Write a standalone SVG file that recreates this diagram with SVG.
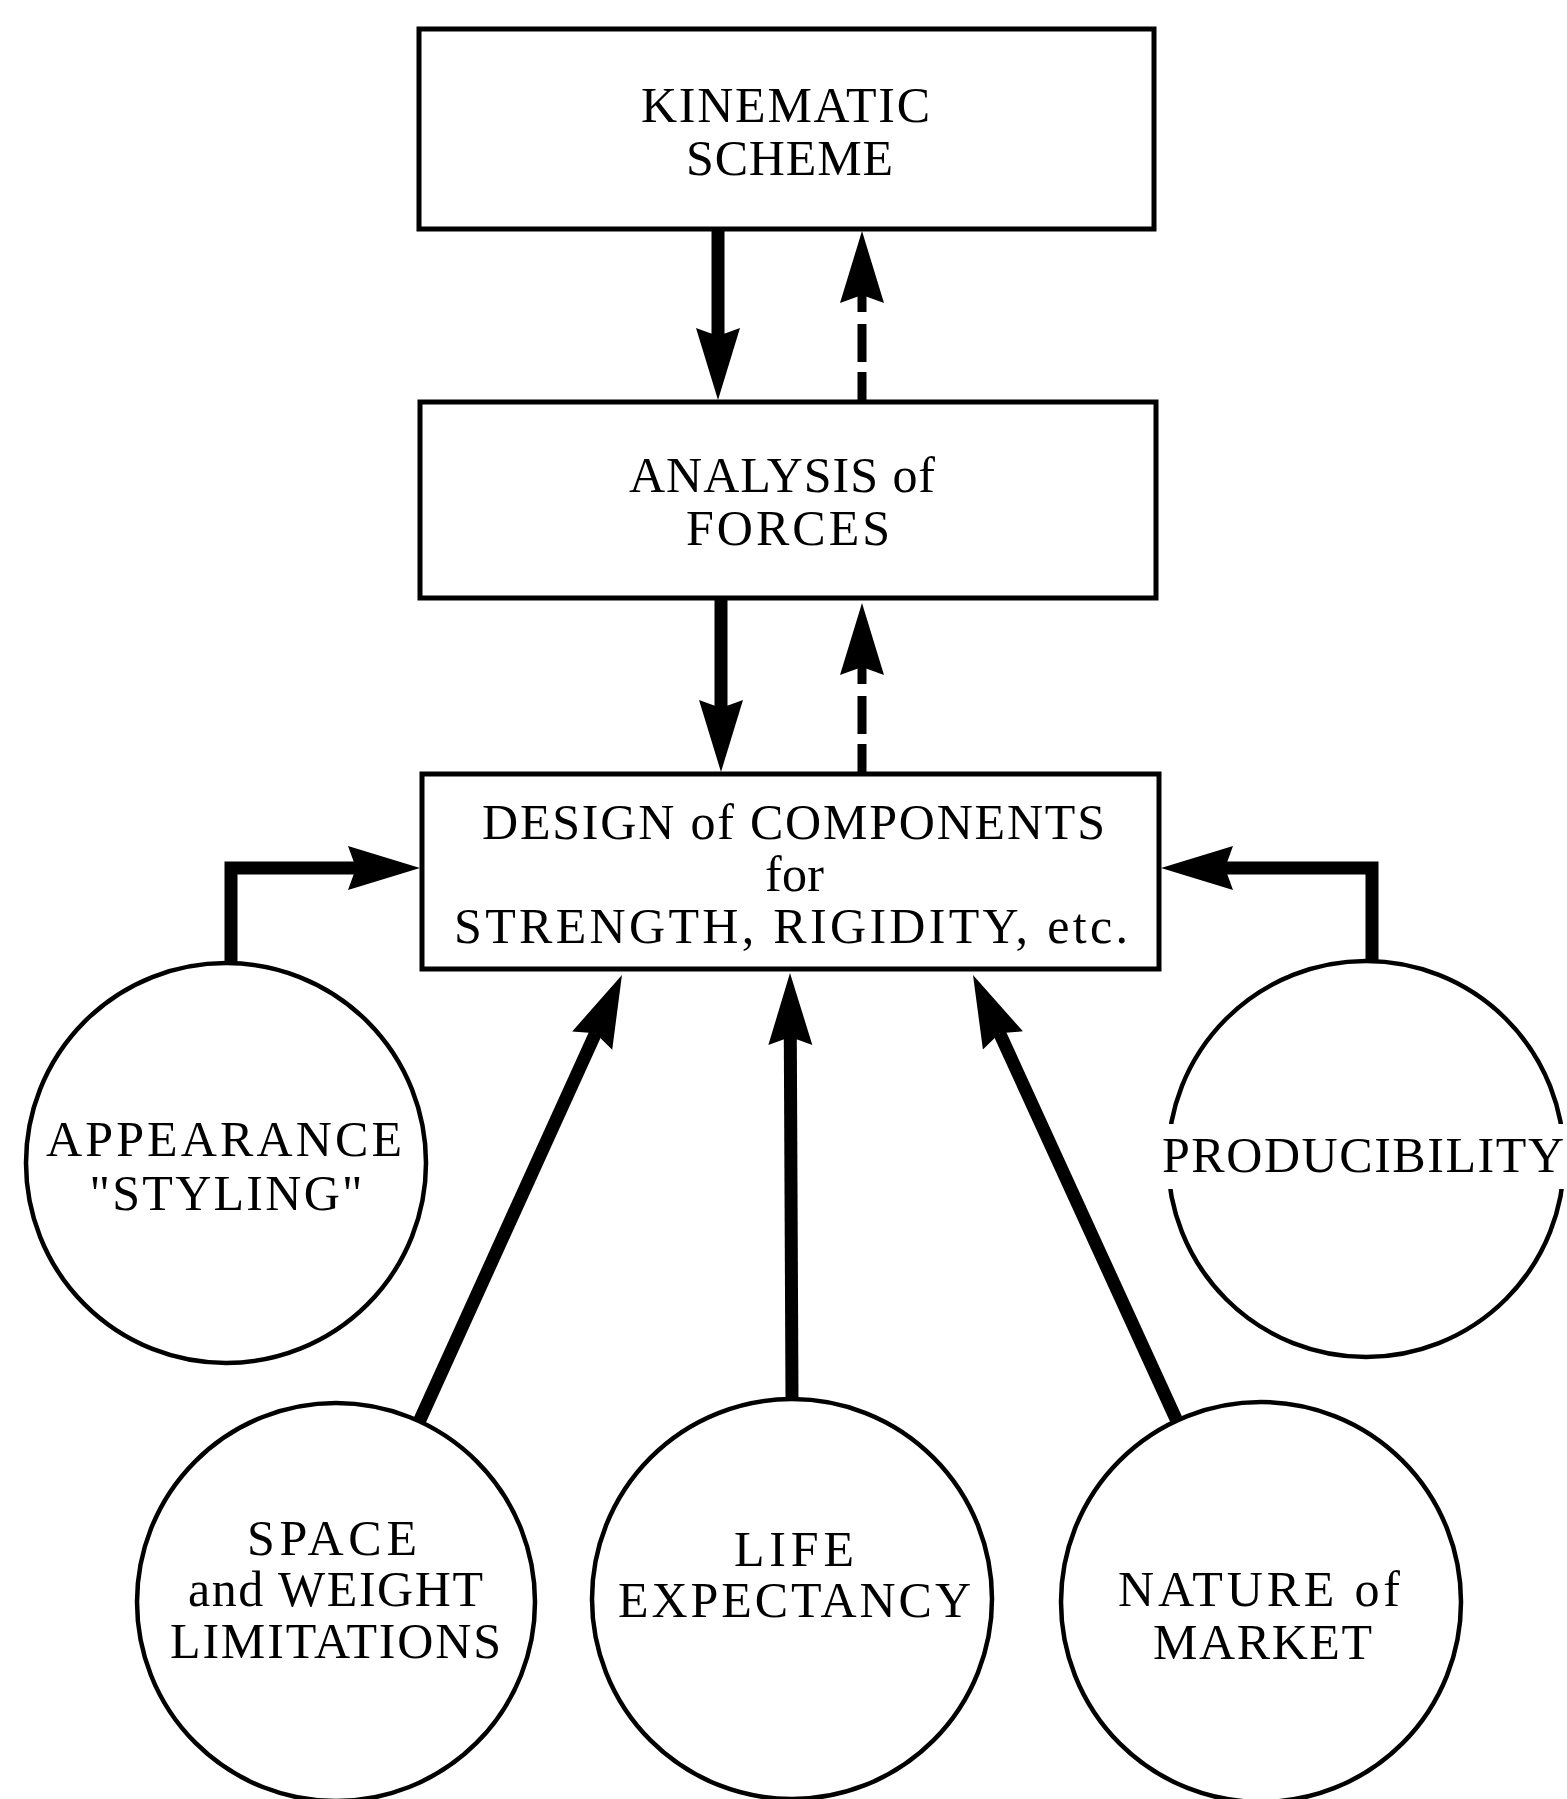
<svg xmlns="http://www.w3.org/2000/svg" width="1567" height="1799" viewBox="0 0 1567 1799">
<style>
.box{fill:#fff;stroke:#000;stroke-width:5}
.circ{fill:#fff;stroke:#000;stroke-width:4.5}
.t{font-family:"Liberation Serif","Times New Roman",serif;font-size:50px;fill:#000;text-anchor:middle}
.solid{fill:none;stroke:#000;stroke-width:13;stroke-linejoin:miter}
.side{fill:none;stroke:#000;stroke-width:13;stroke-linejoin:miter}
.dash{fill:none;stroke:#000;stroke-width:9}
</style>
<defs>
<marker id="head" markerUnits="userSpaceOnUse" markerWidth="200" markerHeight="200" refX="0" refY="0" orient="auto" overflow="visible">
<path d="M-8,-22 L64,0 L-8,22 L0,0 Z" fill="#000"/>
</marker>
</defs>
<rect width="1567" height="1799" fill="#fff"/>

<g id="connectors">
<line class="solid" x1="718" y1="229" x2="718" y2="336" marker-end="url(#head)"/>
<line class="dash" x1="862" y1="400" x2="862" y2="295" stroke-dasharray="28 10 38 12 60" marker-end="url(#head)"/>
<line class="solid" x1="721" y1="598" x2="721" y2="708" marker-end="url(#head)"/>
<line class="dash" x1="862" y1="772" x2="862" y2="667" stroke-dasharray="28 10 38 12 60" marker-end="url(#head)"/>
<polyline class="side" points="231,965 231,868 356,868" marker-end="url(#head)"/>
<polyline class="side" points="1372,961 1372,868 1225,868" marker-end="url(#head)"/>
<line class="solid" x1="419" y1="1422" x2="595.5" y2="1033.3" marker-end="url(#head)"/>
<line class="solid" x1="792" y1="1400" x2="790.3" y2="1037" marker-end="url(#head)"/>
<line class="solid" x1="1176" y1="1419" x2="999.6" y2="1033.2" marker-end="url(#head)"/>
</g>

<g id="kinematic">
<rect class="box" x="419" y="29" width="735" height="200"/>
<text class="t" x="785.5" y="122" textLength="289" lengthAdjust="spacing">KINEMATIC</text>
<text class="t" x="789.5" y="175" textLength="207" lengthAdjust="spacing">SCHEME</text>
</g>

<g id="analysis">
<rect class="box" x="420" y="402" width="736" height="196"/>
<text class="t" x="782" y="492" textLength="306" lengthAdjust="spacing">ANALYSIS of</text>
<text class="t" x="788" y="545" textLength="204" lengthAdjust="spacing">FORCES</text>
</g>

<g id="design">
<rect class="box" x="422" y="774" width="737" height="195"/>
<text class="t" x="793.5" y="839" textLength="623" lengthAdjust="spacing">DESIGN of COMPONENTS</text>
<text class="t" x="794.5" y="891" textLength="59" lengthAdjust="spacing">for</text>
<text class="t" x="791" y="943" textLength="674" lengthAdjust="spacing">STRENGTH, RIGIDITY, etc.</text>
</g>

<g id="appearance">
<circle class="circ" cx="226" cy="1163" r="200"/>
<text class="t" x="224" y="1156" textLength="356" lengthAdjust="spacing">APPEARANCE</text>
<text class="t" x="226" y="1210" textLength="273" lengthAdjust="spacing">"STYLING"</text>
</g>

<g id="producibility">
<circle class="circ" cx="1366" cy="1159" r="198"/>
<rect x="1158" y="1124" width="409" height="65" fill="#fff"/>
<text class="t" x="1162" y="1172" style="text-anchor:start" textLength="402" lengthAdjust="spacing">PRODUCIBILITY</text>
</g>

<g id="space">
<circle class="circ" cx="336" cy="1602" r="199"/>
<text class="t" x="332" y="1555" textLength="170" lengthAdjust="spacing">SPACE</text>
<text class="t" x="335.5" y="1606" textLength="295" lengthAdjust="spacing">and WEIGHT</text>
<text class="t" x="335.5" y="1658" textLength="331" lengthAdjust="spacing">LIMITATIONS</text>
</g>

<g id="life">
<circle class="circ" cx="792" cy="1599" r="200"/>
<text class="t" x="794" y="1566" textLength="120" lengthAdjust="spacing">LIFE</text>
<text class="t" x="794.5" y="1617" textLength="353" lengthAdjust="spacing">EXPECTANCY</text>
</g>

<g id="market">
<circle class="circ" cx="1261" cy="1602" r="200"/>
<text class="t" x="1259" y="1606" textLength="282" lengthAdjust="spacing">NATURE of</text>
<text class="t" x="1262.5" y="1659" textLength="219" lengthAdjust="spacing">MARKET</text>
</g>
</svg>
